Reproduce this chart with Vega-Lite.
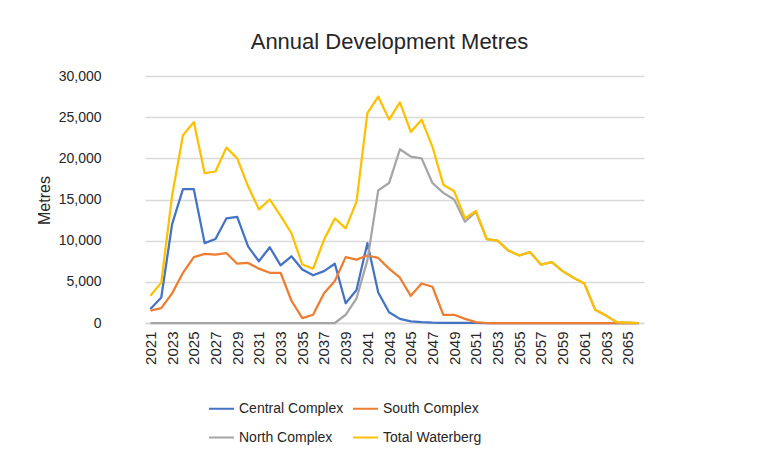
{
  "$schema": "https://vega.github.io/schema/vega-lite/v6.json",
  "autosize": "none",
  "width": 499,
  "height": 247,
  "padding": {"left": 145, "top": 76, "right": 130, "bottom": 151},
  "background": "white",
  "title": {
    "text": "Annual Development Metres",
    "frame": "group",
    "anchor": "middle",
    "dx": -5,
    "offset": 15,
    "fontSize": 22,
    "font": "Liberation Sans",
    "fontWeight": "normal",
    "color": "#262626"
  },
  "data": {
    "values": [
      {"year": 2021, "Central Complex": 1700, "South Complex": 1500, "North Complex": 0, "Total Waterberg": 3300},
      {"year": 2022, "Central Complex": 3100, "South Complex": 1800, "North Complex": 0, "Total Waterberg": 4900},
      {"year": 2023, "Central Complex": 12000, "South Complex": 3600, "North Complex": 0, "Total Waterberg": 15500},
      {"year": 2024, "Central Complex": 16250, "South Complex": 6100, "North Complex": 0, "Total Waterberg": 22800},
      {"year": 2025, "Central Complex": 16250, "South Complex": 8000, "North Complex": 0, "Total Waterberg": 24400},
      {"year": 2026, "Central Complex": 9700, "South Complex": 8400, "North Complex": 0, "Total Waterberg": 18200},
      {"year": 2027, "Central Complex": 10200, "South Complex": 8300, "North Complex": 0, "Total Waterberg": 18400},
      {"year": 2028, "Central Complex": 12700, "South Complex": 8500, "North Complex": 0, "Total Waterberg": 21300},
      {"year": 2029, "Central Complex": 12900, "South Complex": 7200, "North Complex": 0, "Total Waterberg": 20000},
      {"year": 2030, "Central Complex": 9300, "South Complex": 7300, "North Complex": 0, "Total Waterberg": 16600},
      {"year": 2031, "Central Complex": 7500, "South Complex": 6600, "North Complex": 0, "Total Waterberg": 13800},
      {"year": 2032, "Central Complex": 9200, "South Complex": 6100, "North Complex": 0, "Total Waterberg": 15000},
      {"year": 2033, "Central Complex": 7000, "South Complex": 6100, "North Complex": 0, "Total Waterberg": 13000},
      {"year": 2034, "Central Complex": 8100, "South Complex": 2700, "North Complex": 0, "Total Waterberg": 10900},
      {"year": 2035, "Central Complex": 6500, "South Complex": 600, "North Complex": 0, "Total Waterberg": 7100},
      {"year": 2036, "Central Complex": 5800, "South Complex": 1000, "North Complex": 0, "Total Waterberg": 6600},
      {"year": 2037, "Central Complex": 6300, "South Complex": 3600, "North Complex": 0, "Total Waterberg": 10100},
      {"year": 2038, "Central Complex": 7200, "South Complex": 5100, "North Complex": 0, "Total Waterberg": 12700},
      {"year": 2039, "Central Complex": 2400, "South Complex": 8000, "North Complex": 1000, "Total Waterberg": 11500},
      {"year": 2040, "Central Complex": 4000, "South Complex": 7700, "North Complex": 3000, "Total Waterberg": 14750},
      {"year": 2041, "Central Complex": 9700, "South Complex": 8200, "North Complex": 7600, "Total Waterberg": 25500},
      {"year": 2042, "Central Complex": 3700, "South Complex": 7900, "North Complex": 16100, "Total Waterberg": 27500},
      {"year": 2043, "Central Complex": 1300, "South Complex": 6600, "North Complex": 17000, "Total Waterberg": 24700},
      {"year": 2044, "Central Complex": 500, "South Complex": 5500, "North Complex": 21100, "Total Waterberg": 26800},
      {"year": 2045, "Central Complex": 200, "South Complex": 3300, "North Complex": 20200, "Total Waterberg": 23200},
      {"year": 2046, "Central Complex": 100, "South Complex": 4800, "North Complex": 20000, "Total Waterberg": 24700},
      {"year": 2047, "Central Complex": 50, "South Complex": 4400, "North Complex": 17000, "Total Waterberg": 21400},
      {"year": 2048, "Central Complex": 30, "South Complex": 1000, "North Complex": 15800, "Total Waterberg": 16800},
      {"year": 2049, "Central Complex": 20, "South Complex": 1000, "North Complex": 15000, "Total Waterberg": 16000},
      {"year": 2050, "Central Complex": 10, "South Complex": 500, "North Complex": 12300, "Total Waterberg": 12700},
      {"year": 2051, "Central Complex": 0, "South Complex": 100, "North Complex": 13500, "Total Waterberg": 13600},
      {"year": 2052, "Central Complex": 0, "South Complex": 0, "North Complex": 10200, "Total Waterberg": 10200},
      {"year": 2053, "Central Complex": 0, "South Complex": 0, "North Complex": 10000, "Total Waterberg": 10000},
      {"year": 2054, "Central Complex": 0, "South Complex": 0, "North Complex": 8800, "Total Waterberg": 8800},
      {"year": 2055, "Central Complex": 0, "South Complex": 0, "North Complex": 8200, "Total Waterberg": 8200},
      {"year": 2056, "Central Complex": 0, "South Complex": 0, "North Complex": 8600, "Total Waterberg": 8600},
      {"year": 2057, "Central Complex": 0, "South Complex": 0, "North Complex": 7100, "Total Waterberg": 7100},
      {"year": 2058, "Central Complex": 0, "South Complex": 0, "North Complex": 7400, "Total Waterberg": 7400},
      {"year": 2059, "Central Complex": 0, "South Complex": 0, "North Complex": 6300, "Total Waterberg": 6300},
      {"year": 2060, "Central Complex": 0, "South Complex": 0, "North Complex": 5500, "Total Waterberg": 5500},
      {"year": 2061, "Central Complex": 0, "South Complex": 0, "North Complex": 4800, "Total Waterberg": 4800},
      {"year": 2062, "Central Complex": 0, "South Complex": 0, "North Complex": 1600, "Total Waterberg": 1600},
      {"year": 2063, "Central Complex": 0, "South Complex": 0, "North Complex": 900, "Total Waterberg": 900},
      {"year": 2064, "Central Complex": 0, "South Complex": 0, "North Complex": 100, "Total Waterberg": 100},
      {"year": 2065, "Central Complex": 0, "South Complex": 0, "North Complex": 50, "Total Waterberg": 50},
      {"year": 2066, "Central Complex": 0, "South Complex": 0, "North Complex": 0, "Total Waterberg": 0}
    ]
  },
  "transform": [
    {"fold": ["Central Complex", "South Complex", "North Complex", "Total Waterberg"], "as": ["series", "value"]}
  ],
  "mark": {"type": "line", "strokeWidth": 2.25, "strokeJoin": "round"},
  "encoding": {
    "x": {
      "field": "year",
      "type": "ordinal",
      "scale": {"type": "point", "padding": 0.5},
      "axis": {
        "title": null,
        "values": [2021, 2023, 2025, 2027, 2029, 2031, 2033, 2035, 2037, 2039, 2041, 2043, 2045, 2047, 2049, 2051, 2053, 2055, 2057, 2059, 2061, 2063, 2065],
        "labelAngle": 270,
        "labelFontSize": 15,
        "labelFont": "Liberation Sans",
        "labelColor": "#262626",
        "labelPadding": 8,
        "ticks": false,
        "domain": true,
        "domainColor": "#D9D9D9",
        "domainWidth": 1.5,
        "grid": false
      }
    },
    "y": {
      "field": "value",
      "type": "quantitative",
      "scale": {"domain": [0, 30000]},
      "axis": {
        "title": "Metres",
        "titleFont": "Liberation Sans",
        "titleFontSize": 16,
        "titleFontWeight": "normal",
        "titleColor": "#262626",
        "titleX": -101,
        "titleY": 124,
        "titleAngle": 270,
        "titleAlign": "center",
        "titleBaseline": "middle",
        "values": [0, 5000, 10000, 15000, 20000, 25000, 30000],
        "format": ",d",
        "labelFontSize": 14,
        "labelFont": "Liberation Sans",
        "labelColor": "#262626",
        "labelPadding": 44,
        "ticks": false,
        "domain": false,
        "grid": true,
        "gridColor": "#D9D9D9",
        "gridWidth": 1.5
      }
    },
    "color": {
      "field": "series",
      "type": "nominal",
      "sort": ["Central Complex", "South Complex", "North Complex", "Total Waterberg"],
      "scale": {
        "domain": ["Central Complex", "South Complex", "North Complex", "Total Waterberg"],
        "range": ["#4472C4", "#ED7D31", "#A5A5A5", "#FFC000"]
      },
      "legend": {
        "title": null,
        "orient": "none",
        "legendX": 63,
        "legendY": 319,
        "direction": "horizontal",
        "columns": 2,
        "columnPadding": 5,
        "rowPadding": 8,
        "symbolType": "stroke",
        "symbolSize": 625,
        "symbolStrokeWidth": 2,
        "labelOffset": 4,
        "labelFontSize": 14,
        "labelFont": "Liberation Sans",
        "labelColor": "#262626"
      }
    },
    "order": {"field": "series"}
  },
  "config": {
    "view": {"stroke": null}
  }
}
